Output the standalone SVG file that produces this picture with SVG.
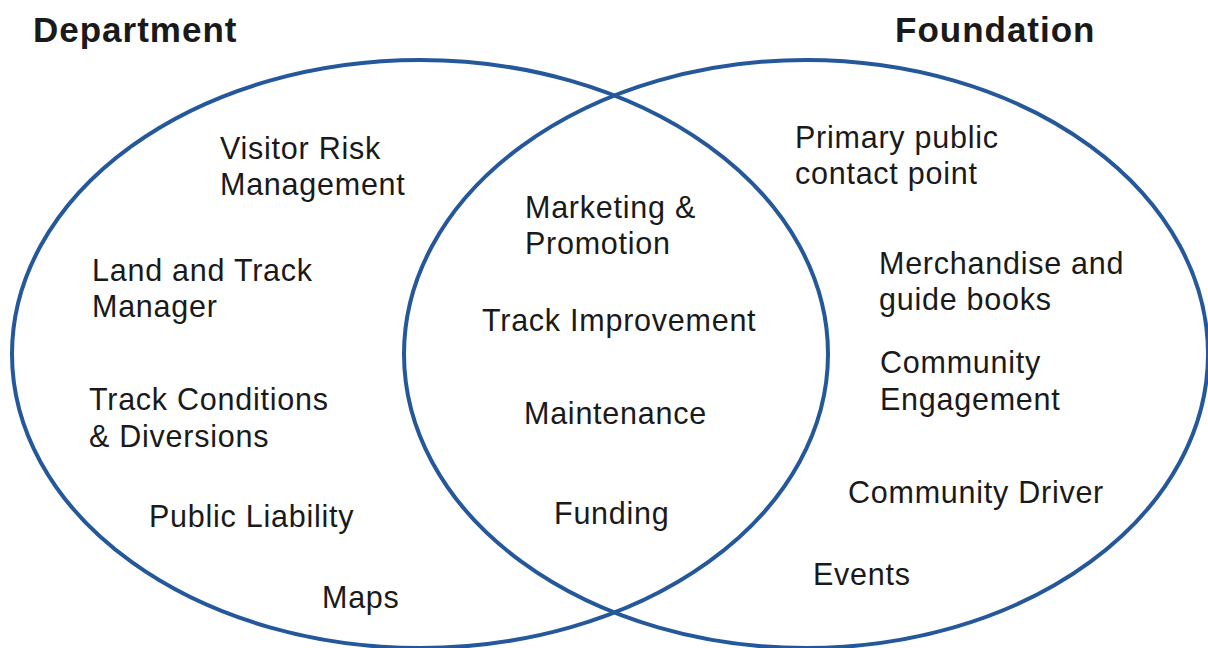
<svg xmlns="http://www.w3.org/2000/svg" width="1208" height="648" viewBox="0 0 1208 648">
  <style>
    .set { fill: none; stroke: #25589a; stroke-width: 4; }
    .title { font-family: "Liberation Sans", Arial, sans-serif; font-size: 35px; font-weight: bold; fill: #1a1a1a; letter-spacing: 1px; }
    .item { font-family: "Liberation Sans", Arial, sans-serif; font-size: 30.5px; fill: #1a1a1a; letter-spacing: 0.75px; }
  </style>
  <rect width="1208" height="648" fill="#ffffff"/>

  <!-- the two overlapping sets -->
  <g id="sets">
    <ellipse id="set-department" class="set" cx="420" cy="354" rx="408" ry="294"/>
    <ellipse id="set-foundation" class="set" cx="806" cy="354" rx="402" ry="294"/>
  </g>

  <!-- set headings -->
  <g id="heading-department"><text class="title" x="33" y="42">Department</text></g>
  <g id="heading-foundation"><text class="title" x="895" y="42">Foundation</text></g>

  <!-- Department only -->
  <g id="visitor-risk"><text class="item" x="220" y="159">Visitor Risk<tspan x="220" dy="36">Management</tspan></text></g>
  <g id="land-track-manager"><text class="item" x="92" y="281">Land and Track<tspan x="92" dy="36">Manager</tspan></text></g>
  <g id="track-conditions"><text class="item" x="89" y="410">Track Conditions<tspan x="89" dy="37">&amp; Diversions</tspan></text></g>
  <g id="public-liability"><text class="item" x="149" y="527">Public Liability</text></g>
  <g id="maps"><text class="item" x="322" y="608">Maps</text></g>

  <!-- shared -->
  <g id="marketing"><text class="item" x="525" y="218">Marketing &amp;<tspan x="525" dy="36">Promotion</tspan></text></g>
  <g id="track-improvement"><text class="item" x="482" y="331">Track Improvement</text></g>
  <g id="maintenance"><text class="item" x="524" y="424">Maintenance</text></g>
  <g id="funding"><text class="item" x="554" y="524">Funding</text></g>

  <!-- Foundation only -->
  <g id="public-contact"><text class="item" x="795" y="148">Primary public<tspan x="795" dy="36">contact point</tspan></text></g>
  <g id="merchandise"><text class="item" x="879" y="274">Merchandise and<tspan x="879" dy="36">guide books</tspan></text></g>
  <g id="community-engagement"><text class="item" x="880" y="373">Community<tspan x="880" dy="37">Engagement</tspan></text></g>
  <g id="community-driver"><text class="item" x="848" y="503">Community Driver</text></g>
  <g id="events"><text class="item" x="813" y="585">Events</text></g>
</svg>
